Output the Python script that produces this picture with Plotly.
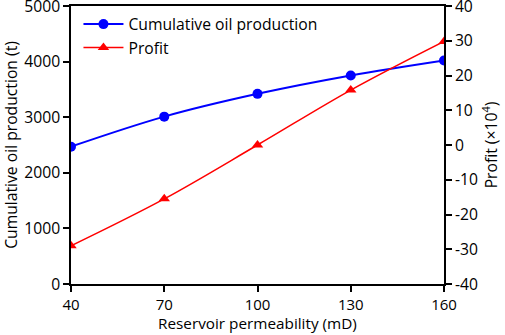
import plotly.graph_objects as go

permeability = [40, 70, 100, 130, 160]
cum_oil = [2470, 3010, 3420, 3750, 4020]
profit = [-29, -15.5, 0, 15.8, 29.8]
left_ticks = [0, 1000, 2000, 3000, 4000, 5000]
right_ticks = [-40, -30, -20, -10, 0, 10, 20, 30, 40]
right_labels = ["-40", "-30", "-20", "-10", "0", "10", "20", "30", "40"]

FONT = "Open Sans"
FS = 15.7
fig = go.Figure()
fig.add_trace(go.Scatter(
    x=permeability, y=cum_oil, name="Cumulative oil production",
    mode="lines+markers", line=dict(color="#0000ff", width=2, shape="spline"),
    marker=dict(symbol="circle", size=10, color="#0000ff"), yaxis="y"))
fig.add_trace(go.Scatter(
    x=permeability, y=profit, name="Profit",
    mode="lines+markers", line=dict(color="#ff0000", width=1.5, shape="spline"),
    marker=dict(symbol="triangle-up", size=10, color="#ff0000"), yaxis="y2"))

axis_common = dict(showgrid=False, zeroline=False, linecolor="black", linewidth=1.5,
                   ticks="outside", ticklen=6, tickwidth=1.5, tickcolor="black",
                   automargin=False, ticklabeloverflow="allow")

fig.update_layout(
    width=505, height=335,
    margin=dict(l=71, r=61, t=6, b=51, autoexpand=False),
    paper_bgcolor="white", plot_bgcolor="white",
    font=dict(family=FONT, size=FS, color="black"),
    xaxis=dict(range=[40, 160], tickvals=permeability, showline=True, mirror=True,
               tickfont=dict(family=FONT, size=15, color="black"),
               **axis_common),
    yaxis=dict(range=[0, 5000], tickvals=left_ticks, showline=True,
               tickfont=dict(family=FONT, size=FS, color="black"),
               title=dict(text="Cumulative oil production (t)", standoff=4,
                          font=dict(family=FONT, size=FS)),
               **axis_common),
    yaxis2=dict(range=[-40, 40], tickvals=right_ticks, ticktext=right_labels,
                overlaying="y", side="right", showline=True,
                tickfont=dict(family=FONT, size=FS, color="black"),
                title=dict(text="Profit (×10<sup>4</sup>)", standoff=4,
                           font=dict(family=FONT, size=FS)),
                **axis_common),
    legend=dict(x=0.02, y=0.995, xanchor="left", yanchor="top", bgcolor="rgba(0,0,0,0)",
                font=dict(family=FONT, size=FS), itemwidth=40, tracegroupgap=2),
    showlegend=True,
)
fig.add_annotation(text="Reservoir permeability (mD)", xref="paper", yref="paper",
                   x=0.5, y=-51 / 278, xanchor="center", yanchor="bottom",
                   showarrow=False, yshift=0,
                   font=dict(family=FONT, size=15.3, color="black"))
fig.write_html("out.html", config={"displayModeBar": False},
               post_script="document.body.style.margin='0';document.body.style.overflow='hidden';")
